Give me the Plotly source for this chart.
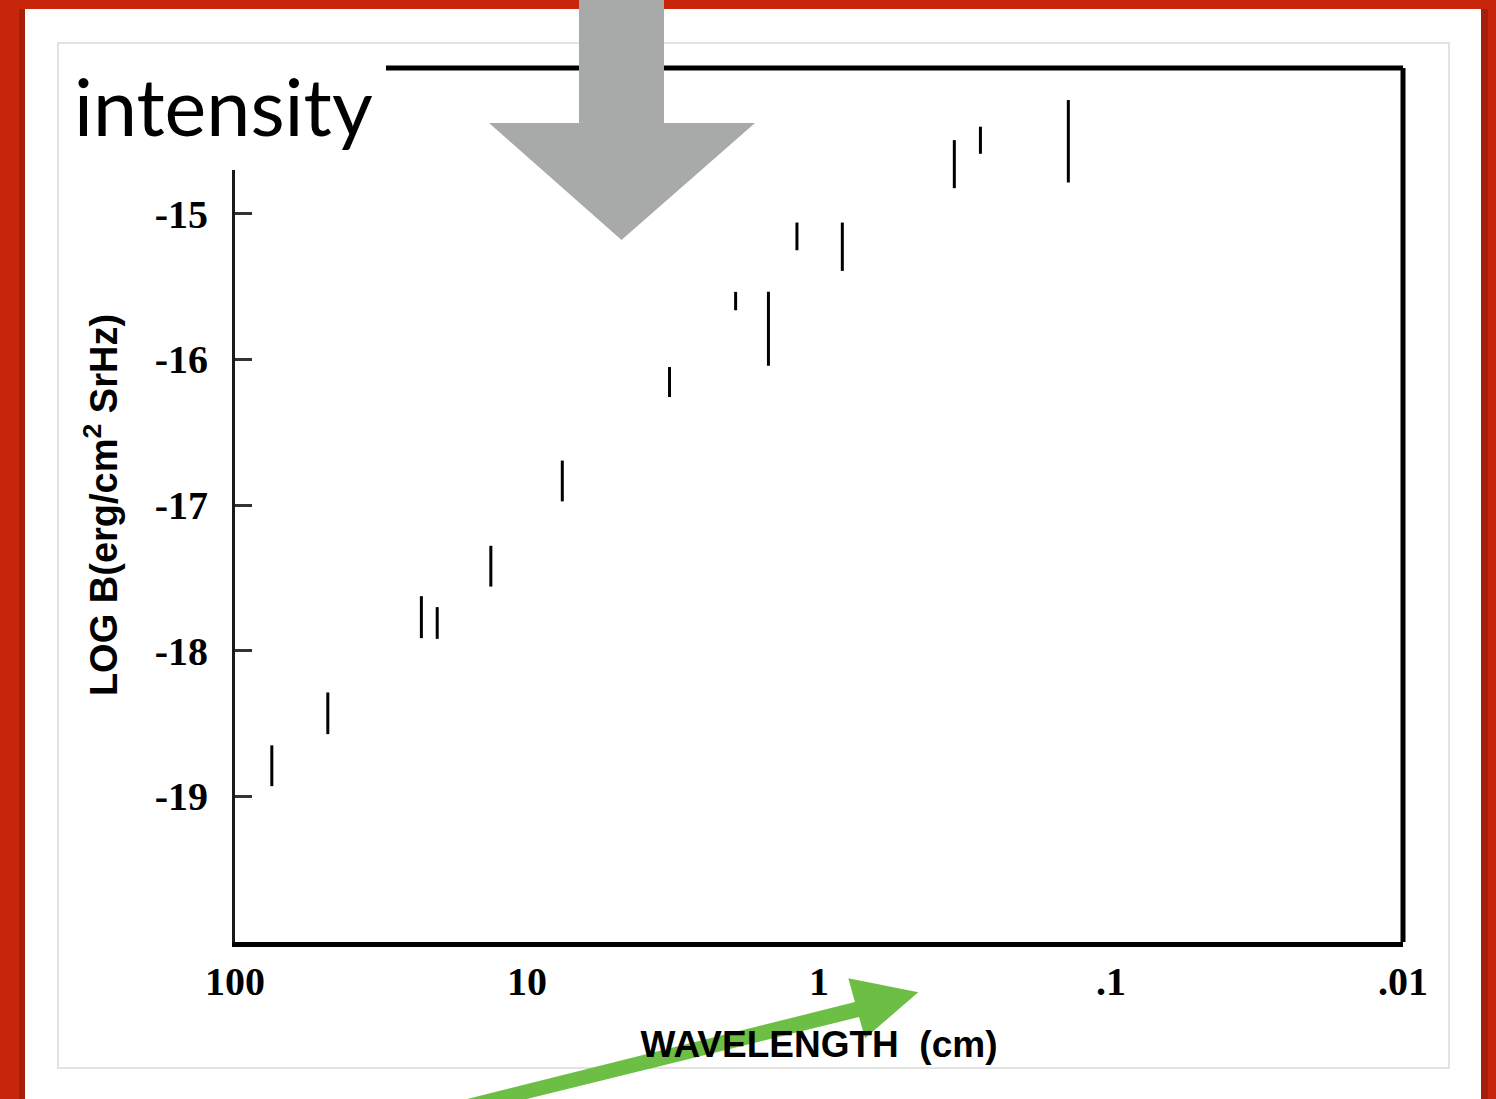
import plotly.graph_objects as go

# ---- data ----
wavelength_cm = [74.8, 48.1, 23.0, 20.3, 13.3, 7.57, 3.25, 1.93, 1.49, 1.19, 0.832, 0.344, 0.280, 0.140]
log_B = [-18.79, -18.43, -17.77, -17.81, -17.42, -16.835, -16.156, -15.60, -15.79, -15.156, -15.227, -14.66, -14.496, -14.503]
log_B_err = [0.14, 0.143, 0.144, 0.109, 0.14, 0.14, 0.103, 0.063, 0.254, 0.095, 0.166, 0.165, 0.093, 0.283]

x_tick_vals = [100, 10, 1, 0.1, 0.01]
x_tick_text = ["100", "10", "1", ".1", ".01"]
y_tick_vals = [-15, -16, -17, -18, -19]
y_tick_text = ["-15", "-16", "-17", "-18", "-19"]

W, H = 1496, 1099
L, R, T, B = 235, 1403, 68, 942


def px(x):
    return (x - L) / (R - L)


def py(y):
    return (B - y) / (B - T)


def path(points):
    s = "M " + " L ".join(f"{px(x):.5f},{py(y):.5f}" for x, y in points) + " Z"
    return s


RED = "#C8260A"
DARK_RED = "#A61F0B"

fig = go.Figure(
    go.Scatter(
        x=wavelength_cm,
        y=log_B,
        mode="markers",
        marker=dict(size=2, color="rgba(0,0,0,0)"),
        error_y=dict(type="data", array=log_B_err, symmetric=True,
                     width=0, thickness=3, color="black"),
        showlegend=False,
    )
)

tick_font = dict(family="Liberation Serif", size=40, color="black", weight="bold")
xtitle_font = dict(family="Liberation Sans", size=37, color="black", weight="bold")
ytitle_font = dict(family="Liberation Sans", size=38, color="black", weight="bold")

fig.update_layout(
    width=W,
    height=H,
    autosize=False,
    margin=dict(l=L, r=W - R, t=T, b=H - B, pad=0),
    paper_bgcolor="white",
    plot_bgcolor="white",
    xaxis=dict(
        type="log",
        range=[2, -2],
        showline=True,
        linewidth=5,
        linecolor="black",
        ticks="",
        tickvals=x_tick_vals,
        ticktext=x_tick_text,
        tickfont=tick_font,
        ticklabelstandoff=0,
        showgrid=False,
        zeroline=False,
        title=dict(text="WAVELENGTH\u00a0\u00a0(cm)", font=xtitle_font, standoff=30),
    ),
    yaxis=dict(
        range=[-20, -14],
        showline=True,
        linewidth=3,
        linecolor="#1a1a1a",
        ticks="inside",
        ticklen=17,
        tickwidth=3,
        tickcolor="#333333",
        tickvals=y_tick_vals,
        ticktext=y_tick_text,
        tickfont=tick_font,
        ticklabelstandoff=16,
        showgrid=False,
        zeroline=False,
        title=dict(text="LOG B(erg/cm<sup>2</sup> SrHz)", font=ytitle_font, standoff=26),
    ),
)

shapes = []
# red slide frame
shapes.append(dict(type="rect", xref="paper", yref="paper", x0=px(0), x1=px(25), y0=py(0), y1=py(1110),
                   fillcolor=RED, line=dict(width=0), layer="below"))
shapes.append(dict(type="rect", xref="paper", yref="paper", x0=px(19), x1=px(25), y0=py(9), y1=py(1110),
                   fillcolor=DARK_RED, line=dict(width=0), layer="below"))
shapes.append(dict(type="rect", xref="paper", yref="paper", x0=px(0), x1=px(1500), y0=py(-5), y1=py(9),
                   fillcolor=RED, line=dict(width=0), layer="below"))
shapes.append(dict(type="rect", xref="paper", yref="paper", x0=px(1481), x1=px(1500), y0=py(0), y1=py(1110),
                   fillcolor=RED, line=dict(width=0), layer="below"))
shapes.append(dict(type="rect", xref="paper", yref="paper", x0=px(1481), x1=px(1488), y0=py(9), y1=py(1110),
                   fillcolor=DARK_RED, line=dict(width=0), layer="below"))
# light picture border
shapes.append(dict(type="rect", xref="paper", yref="paper", x0=px(58), x1=px(1449), y0=py(43), y1=py(1068),
                   fillcolor="rgba(0,0,0,0)", line=dict(width=1.5, color="#DADADA"), layer="below"))
# top and right frame lines of the plot
shapes.append(dict(type="line", xref="paper", yref="paper", x0=0, x1=1, y0=1, y1=1,
                   line=dict(width=5, color="black"), layer="above"))
shapes.append(dict(type="line", xref="paper", yref="paper", x0=1, x1=1, y0=0, y1=1,
                   line=dict(width=5, color="black"), layer="above"))
# white box behind the "intensity" label
shapes.append(dict(type="rect", xref="paper", yref="paper", x0=px(59), x1=px(386), y0=py(44), y1=py(170),
                   fillcolor="white", line=dict(width=0), layer="above"))
# gray down arrow
gray_arrow = [(579, -5), (664, -5), (664, 123), (755, 123), (621.5, 240), (489, 123), (579, 123)]
shapes.append(dict(type="path", xref="paper", yref="paper", path=path(gray_arrow),
                   fillcolor="#A7AAA8", line=dict(width=0), layer="above"))
# green arrow
green_arrow = [(343, 1130), (854.9, 1002.1), (848.3, 978.3), (918.3, 992.3), (865, 1038.3),
               (859.05, 1016.9), (401.3, 1130)]
shapes.append(dict(type="path", xref="paper", yref="paper", path=path(green_arrow),
                   fillcolor="#6DBE45", line=dict(width=0), layer="above"))

fig.update_layout(shapes=shapes)

fig.add_annotation(
    text="intensity",
    xref="paper", yref="paper",
    x=px(72), y=py(106),
    xanchor="left", yanchor="middle",
    showarrow=False,
    font=dict(family="Lato", size=79, color="black"),
)

fig.write_html("out.html")
